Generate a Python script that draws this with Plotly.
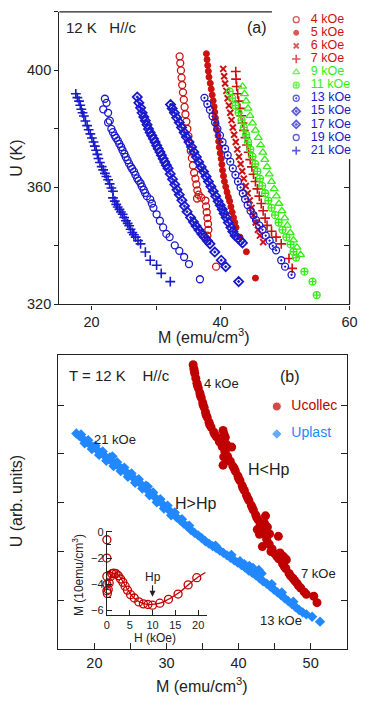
import plotly.graph_objects as go

W, H = 378, 708
FONT = "Liberation Sans, Arial, Helvetica, sans-serif"
INK = "#222222"
RED = "#cc1111"
GREEN = "#33ee11"
BLUE = "#1a1acc"
RED_B = "#c00000"
BLUE_B = "#2288ff"

# ---------------- Panel (a): U (K) versus M (emu/cm^3), pairs (M, U) ----------------
a4 = [(33.65,404.8),(33.75,402.5),(33.85,400),(33.95,397.5),(34.05,395),(34.17,392.5),(34.3,390),
      (34.42,387.5),(34.55,385),(34.7,382.5),(34.85,380),(35.02,377.5),(35.2,375),(35.37,372.5),
      (35.55,370),(35.72,367.5),(35.9,365),(36.1,363),(36.25,361),(36.4,359),(36.6,357.5),(36.35,356.2),
      (37.0,356.5),(37.65,355.5),(37.75,353.5),(37.85,351.5),(37.95,349.5),(38.05,347.5),(38.1,345.5),
      (37.95,343.5),(39.3,332.9)]
a5 = [(37.8,405.7),(37.9,403.7),(38.0,401.7),(38.1,399.7),(38.2,397.7),(38.4,395.6),(38.55,393.6),
      (38.7,391.6),(38.85,389.6),(39.0,387.6),(39.1,385.7),(39.2,383.7),(39.3,381.7),(39.4,379.7),
      (39.6,377.7),(39.7,375.7),(39.8,373.7),(39.95,371.7),(40.1,369.8),(40.2,367.8),(40.3,365.8),
      (40.45,363.9),(40.6,362.0),(40.8,360.2),(41.0,358.4),(41.2,356.7),(41.4,355.3),(41.6,353.4),
      (41.8,351.5),(42.0,349.7),(42.2,348.0),(42.4,346.3),(43.0,343.0),(44.0,338.0),(45.4,329.0)]
a6 = [(40.4,400.5),(40.55,398),(40.7,395.5),(40.9,393),(41.1,390.5),(41.3,388),(41.5,385.5),
      (41.7,383),(41.9,380.5),(42.1,378),(42.35,375.5),(42.6,373),(42.85,370.5),(43.1,368),
      (43.35,365.5),(43.6,363),(43.9,360.5),(44.2,358),(44.5,355.5),(44.8,353),(45.1,350.5),
      (45.45,348),(45.8,345.5),(46.1,343.5),(46.6,341.3)]
a7 = [(42.35,399.6),(42.4,397),(42.5,394.5),(42.65,392),(42.8,389.5),(43.0,387),(43.2,384.5),
      (43.4,382),(43.6,379.5),(43.85,377),(44.1,374.5),(44.35,372),(44.6,369.5),(44.85,367),
      (45.1,364.5),(45.4,362),(45.7,359.5),(46.0,357),(46.3,354.5),(46.6,352),(46.9,349.5),
      (47.2,347),(47.9,345.0),(48.6,343.0),(49.4,340.7),(50.6,335.7),(51.1,332.3)]
a9 = [(43.4,394.5),(43.7,392),(43.95,389.5),(44.25,387),(44.55,384.5),(44.95,382),(45.4,379.5),
      (45.85,377),(46.2,374.5),(46.55,372),(46.85,369.5),(47.2,367),(47.55,364.5),(47.9,362),
      (48.3,359.5),(48.65,357),(49.05,354.5),(49.5,352),(49.95,349.5),(50.35,347),(50.8,344.5),
      (51.3,342),(51.85,339.5),(52.4,337)]
a11 = [(41.4,392.8),(41.8,390.5),(42.3,388),(42.8,385.5),(43.25,383),(43.6,380.5),(43.95,378),
       (44.25,375.5),(44.6,373),(44.95,370.5),(45.35,368),(45.7,365.5),(46.1,363),(46.45,360.5),
       (46.9,358),(47.4,355.5),(47.9,353),(48.45,350.5),(49.0,348),(49.6,345.5),(50.2,343),
       (50.85,340.5),(51.3,338),(51.7,336),(53.0,331.2),(54.25,327.8),(54.9,323.2)]
a13 = [(37.5,390.6),(37.95,388.5),(38.35,386.5),(38.75,384.3),(39.15,382.2),(39.5,380),(39.9,377.8),
       (40.3,375.5),(40.7,373.2),(41.1,371),(41.5,368.8),(41.9,366.5),(42.3,364.3),(42.7,362),
       (43.1,360),(43.45,358),(43.8,356),(44.2,354),(44.65,352),(45.1,350.5),(45.5,348.8),(46.0,347),
       (46.5,345.5),(47.0,343.5),(47.6,341.8),(48.1,340),(48.6,338.5),(49.4,335.1),(50.0,332.9),(51.0,330.1)]
a15 = [(32.24,388.3),(32.5,387.0),(32.84,385.5),(33.2,383.8),(33.6,382.2),(33.95,380.5),(34.35,378.8),
       (34.7,377.2),(35.1,375.5),(35.5,373.8),(35.86,372.1),(36.25,370.4),(36.61,368.7),(37.0,367.0),
       (37.36,365.4),(37.75,363.7),(38.11,362.0),(38.5,360.3),(38.86,358.7),(39.25,357.0),(39.62,355.3),
       (39.95,353.9),(40.26,352.5),(40.55,351.1),(40.86,349.7),(41.2,348.0),(41.6,346.3),(41.9,344.9),
       (42.26,343.5),(42.7,342.6),(43.1,341.8),(43.4,341.0)]
a17 = [(27.08,390.9),(27.33,388.9),(27.6,387.2),(27.83,385.5),(28.1,384.1),(28.34,382.8),(28.6,381.4),
       (28.83,380),(29.08,378.8),(29.33,377.7),(29.6,376.6),(29.84,375.5),(30.1,374.3),(30.34,373.2),
       (30.6,372.1),(30.83,371),(31.1,369.8),(31.35,368.7),(31.6,367.6),(31.85,366.5),(32.2,364.6),
       (32.55,362.8),(32.9,361),(33.25,359.2),(33.6,357.5),(34.0,355.6),(34.4,353.6),(34.8,351.7),
       (35.35,349.7),(35.8,348.2),(36.2,346.8),(36.65,345.4),(37.1,344.1),(37.5,343),(37.95,341.8),
       (38.35,340.7),(39.1,337.9),(40.1,335.1),(40.8,332.9),(42.8,327.8)]
a19 = [(22.07,390.3),(22.32,388.9),(21.81,386.7),(22.56,385.5),(22.56,382.2),(22.82,382.8),(23.07,380.0),
       (23.3,378.9),(23.57,377.7),(23.8,376.9),(24.07,376.0),(24.3,374.9),(24.58,373.8),(24.8,372.7),
       (25.08,371.5),(25.3,370.4),(25.57,369.3),(25.8,368.2),(26.08,367.1),(26.3,366.3),(26.58,365.4),
       (26.8,364.3),(27.07,363.1),(27.3,362.3),(27.59,361.4),(27.8,360.3),(28.08,359.2),(28.3,358.1),
       (28.58,357.0),(29.09,355.9),(29.35,354.5),(29.59,353.0),(30.08,350.8),(30.59,348.6),(31.09,346.3),
       (31.59,344.1),(32.1,343.0),(32.9,340.2),(33.6,338.3),(34.35,336.2),(35.1,333.8),(36.8,328.6)]
a21 = [(17.56,392.0),(17.8,390.7),(18.06,389.5),(18.25,388.1),(18.41,386.7),(18.6,385.5),(18.81,384.4),
       (19.05,382.7),(19.31,381.1),(19.55,379.7),(19.81,378.3),(20.05,376.9),(20.31,375.5),(20.5,374.1),
       (20.71,372.7),(20.9,371.3),(21.06,369.9),(21.3,368.5),(21.57,367.1),(21.8,366.0),(22.07,364.8),
       (22.3,363.7),(22.56,362.6),(22.8,361.2),(23.07,359.8),(23.32,358.7),(23.32,356.4),(23.6,355.3),
       (23.83,354.2),(24.05,353.3),(24.32,352.5),(24.55,351.6),(24.82,350.8),(25.05,349.7),(25.33,348.6),
       (25.6,347.7),(25.83,346.9),(26.05,345.7),(26.32,344.6),(26.55,343.8),(26.83,343.0),(27.2,341.8),
       (27.59,340.7),(28.34,337.9),(29.09,335.1),(30.08,333.4),(30.8,330.6),(32.2,327.8)]

labels_a = ["4 kOe", "5 kOe", "6 kOe", "7 kOe", "9 kOe", "11 kOe",
            "13 kOe", "15 kOe", "17 kOe", "19 kOe", "21 kOe"]
data_a = [a4, a5, a6, a7, a9, a11, a13, a15, a17, a19, a21]
# style per field: (symbol, colour, size, line width)
style_a = [("circle-open", RED, 7, 1.3), ("circle", RED, 6, 1.0), ("x-thin", RED, 6, 2.0),
           ("cross-thin", RED, 7, 1.6), ("triangle-up-open", GREEN, 7, 1.3),
           ("circle-cross-open", GREEN, 7, 1.3), ("circle-open-dot", BLUE, 7, 1.3),
           ("diamond-open-dot", BLUE, 7, 1.8), ("diamond-open-dot", BLUE, 7, 1.8),
           ("circle-open", BLUE, 7, 1.3), ("cross-thin", BLUE, 7, 1.6)]

# ---------------- Panel (b): U (arb. units) versus M ----------------
ucollec = [(33.70,5.83),(33.80,5.75),(33.93,5.65),(34.07,5.55),(34.22,5.45),(34.42,5.35),(34.63,5.25),
           (34.83,5.15),(35.03,5.05),(35.23,4.95),(35.42,4.85),(35.65,4.75),(35.90,4.65),(36.18,4.55),
           (36.55,4.45),(36.93,4.35),(37.33,4.25),(37.72,4.15),(38.1,4.05),(38.48,3.95),(38.85,3.85),
           (39.2,3.75),(39.55,3.65),(39.9,3.55),(40.2,3.45),(40.5,3.35),(40.8,3.25),(41.1,3.15),
           (41.42,3.05),(41.75,2.95),(42.05,2.85),(42.38,2.75),(42.7,2.65),(43.0,2.55),(43.3,2.45),
           (43.6,2.35),(43.9,2.25),(44.25,2.15),(44.65,2.05),(45.04,1.95),(45.57,1.85),(46.10,1.75),
           (46.55,1.65),(47.00,1.55),(47.54,1.45),(48.09,1.35),(48.62,1.25),(49.10,1.17),(49.4,1.12),
           (50.43,1.08),(50.88,0.95),
           (37.85,4.48),(38.16,4.34),(37.72,4.21),(38.16,4.07),(37.94,3.94),(37.85,3.77),(38.6,3.87),
           (39.05,4.14),(38.0,4.40),(38.3,4.20),(43.74,2.73),(42.6,2.45),(43.6,2.58),(44.3,2.36),
           (44.0,2.50),(43.3,2.10),(45.75,1.97),(46.19,1.90),(46.63,1.83),(45.52,2.31),(46.42,1.86),
           (44.5,2.00),(42.9,2.35),
           (33.85,5.70),(34.3,5.40),(34.7,5.20),(35.1,5.00),(35.5,4.80),(36.0,4.60),(36.7,4.40),
           (39.4,3.70),(40.0,3.50),(40.6,3.30),(41.25,3.10),(41.9,2.90),(42.5,2.70),(45.3,1.90),
           (46.3,1.70),(47.2,1.50),(47.8,1.40),(48.3,1.30)]
uplast = [(17.5,4.42),(17.9,4.37),(18.4,4.31),(18.9,4.25),(19.4,4.19),(19.9,4.14),(20.4,4.08),
          (20.9,4.02),(21.4,3.96),(21.9,3.90),(22.4,3.85),(22.9,3.79),(23.4,3.74),(23.9,3.69),
          (24.4,3.63),(24.9,3.57),(25.4,3.51),(25.9,3.45),(26.4,3.39),(26.9,3.32),(27.4,3.25),
          (27.9,3.18),(28.4,3.11),(28.9,3.04),(29.4,2.98),(29.9,2.91),(30.4,2.84),(30.9,2.77),
          (31.4,2.70),(31.9,2.64),(32.4,2.57),(32.9,2.51),(33.4,2.44),(33.9,2.38),(34.4,2.33),
          (34.9,2.27),(35.4,2.21),(35.9,2.16),(36.4,2.11),(36.9,2.07),(37.4,2.02),(37.9,1.97),
          (38.4,1.92),(38.9,1.87),(39.4,1.82),(39.9,1.77),(40.4,1.72),(40.9,1.67),(41.4,1.61),
          (41.9,1.56),(42.4,1.51),(42.9,1.45),(43.4,1.39),(43.9,1.34),(44.4,1.28),(44.9,1.22),
          (45.4,1.16),(45.9,1.10),(46.4,1.04),(46.9,0.98),(47.4,0.92),(47.9,0.86),(48.4,0.80),
          (48.9,0.75),(49.4,0.71),(50.2,0.66),(51.3,0.56),
          (18.15,4.40),(19.15,4.28),(20.15,4.17),(21.15,4.05),(22.15,3.93),(23.15,3.83),(24.15,3.72),
          (25.15,3.60),(26.15,3.48),(27.15,3.35),(28.15,3.21),(29.15,3.07),(30.15,2.94),(31.15,2.80),
          (32.15,2.66),(33.15,2.53),
          (18.65,4.22),(19.65,4.10),(20.65,3.98),(21.65,3.86),(22.65,3.75),(23.65,3.65),(24.65,3.53),
          (25.65,3.41),(26.65,3.29),(27.65,3.15),(28.65,3.01),(29.65,2.88),(30.65,2.74),
          (22.5,3.95),(27.4,3.33),(36.8,2.12),(39.0,1.93),(40.2,1.80),(40.8,1.74),(41.5,1.70),
          (42.0,1.66),(42.8,1.62),(43.2,1.55),(44.6,1.33),(46.0,1.16),(47.6,0.97)]
labels_b = ["Ucollec", "Uplast"]

# ---------------- Inset: M (10 emu/cm^3) versus H (kOe) ----------------
inset_h = [0, 0, 0, 0, 0, 0.1, 0.3, 0.5, 0.8, 1.1, 1.5, 2.0, 2.5, 3.0, 3.5, 4.0, 4.5,
           5.2, 6.0, 7.0, 8.0, 9.0, 10.0, 11.6, 13.5, 15.6, 17.8, 19.7]
inset_m = [-0.6, -2.0, -3.4, -4.0, -4.5, -4.7, -4.4, -3.9, -3.4, -3.2, -3.15, -3.2, -3.35, -3.6,
           -3.85, -4.15, -4.45, -4.8, -5.05, -5.35, -5.5, -5.55, -5.6, -5.45, -5.15, -4.75, -4.05, -3.5]
fit_h = [0.3, 0.8, 1.5, 2.5, 3.5, 4.5, 5.5, 6.5, 7.5, 8.5, 9.5, 10.5, 12, 14, 16, 18, 20, 21.6]
fit_m = [-4.2, -3.4, -3.15, -3.3, -3.8, -4.4, -4.9, -5.2, -5.4, -5.52, -5.56, -5.52, -5.4, -5.05,
         -4.6, -4.0, -3.45, -3.1]

# ------------------------------------------------------------------
fig = go.Figure()

for pts, (sym, col, size, lw) in zip(data_a, style_a):
    fig.add_trace(go.Scatter(
        x=[p[0] for p in pts], y=[p[1] for p in pts], mode="markers",
        marker=dict(symbol=sym, color=col, size=size, line=dict(color=col, width=lw)),
        xaxis="x", yaxis="y", showlegend=False, hoverinfo="skip"))
# right-hand inside ticks of panel (a)
fig.add_trace(go.Scatter(x=[], y=[], xaxis="x", yaxis="y6", showlegend=False))

# legend of panel (a)
fig.add_trace(go.Scatter(
    x=[0] * len(labels_a), y=labels_a, mode="markers",
    marker=dict(symbol=[s[0] for s in style_a], color=[s[1] for s in style_a],
                size=[s[2] - 1 for s in style_a],
                line=dict(color=[s[1] for s in style_a], width=[s[3] for s in style_a])),
    xaxis="x3", yaxis="y3", showlegend=False, hoverinfo="skip", cliponaxis=False))
fig.add_trace(go.Scatter(
    x=[15] * len(labels_a), y=labels_a, mode="text", text=labels_a, textposition="middle right",
    textfont=dict(family=FONT, size=12.5, color=[s[1] for s in style_a]),
    xaxis="x3", yaxis="y3", showlegend=False, hoverinfo="skip", cliponaxis=False))

# panel (b)
fig.add_trace(go.Scatter(
    x=[p[0] for p in uplast], y=[p[1] for p in uplast], mode="markers",
    marker=dict(symbol="diamond", color=BLUE_B, size=8, line=dict(width=0)),
    xaxis="x2", yaxis="y2", showlegend=False, hoverinfo="skip"))
fig.add_trace(go.Scatter(
    x=[p[0] for p in ucollec], y=[p[1] for p in ucollec], mode="markers",
    marker=dict(symbol="circle", color=RED_B, size=9, line=dict(width=0)),
    xaxis="x2", yaxis="y2", showlegend=False, hoverinfo="skip"))
# legend of panel (b)
fig.add_trace(go.Scatter(
    x=[0, 0], y=labels_b, mode="markers",
    marker=dict(symbol=["circle", "diamond"], color=[RED_B, BLUE_B], size=[9, 8]),
    xaxis="x4", yaxis="y4", showlegend=False, hoverinfo="skip", cliponaxis=False))
fig.add_trace(go.Scatter(
    x=[15, 15], y=labels_b, mode="text", text=labels_b, textposition="middle right",
    textfont=dict(family=FONT, size=14, color=[RED_B, BLUE_B]),
    xaxis="x4", yaxis="y4", showlegend=False, hoverinfo="skip", cliponaxis=False))

# inset
fig.add_trace(go.Scatter(
    x=fit_h, y=fit_m, mode="lines", line=dict(color=RED_B, width=1.3, shape="spline"),
    xaxis="x5", yaxis="y5", showlegend=False, hoverinfo="skip", cliponaxis=False))
fig.add_trace(go.Scatter(
    x=inset_h, y=inset_m, mode="markers",
    marker=dict(symbol="circle-open", color=RED_B, size=8, line=dict(color=RED_B, width=1.3)),
    xaxis="x5", yaxis="y5", showlegend=False, hoverinfo="skip", cliponaxis=False))


def px_x(px):
    return px / W


def px_y(py):
    return 1 - py / H


tickfont = dict(family=FONT, size=14.5, color=INK)
hidden = dict(visible=False, showgrid=False, zeroline=False)
inset_font = dict(family=FONT, size=11, color=INK)

fig.update_layout(
    width=W, height=H, margin=dict(l=0, r=0, t=0, b=0),
    paper_bgcolor="white", plot_bgcolor="rgba(0,0,0,0)", showlegend=False,
    font=dict(family=FONT, color=INK),
    # panel (a)
    xaxis=dict(domain=[px_x(58), px_x(357)], anchor="y", range=[15, 60], tick0=20, dtick=20,
               ticks="outside", ticklen=4, tickwidth=1.2, tickcolor=INK,
               minor=dict(dtick=10, ticks="outside", ticklen=4, tickwidth=1.2, tickcolor=INK),
               showline=True, linecolor=INK, linewidth=1.3, showgrid=False, zeroline=False,
               tickfont=tickfont),
    yaxis=dict(domain=[px_y(305), px_y(7)], anchor="x", range=[320, 420], tick0=320, dtick=40,
               ticks="outside", ticklen=4, tickwidth=1.2, tickcolor=INK,
               minor=dict(dtick=20, ticks="outside", ticklen=4, tickwidth=1.2, tickcolor=INK),
               showline=True, linecolor=INK, linewidth=1.3, showgrid=False, zeroline=False,
               tickfont=tickfont),
    yaxis6=dict(overlaying="y", side="right", anchor="x", range=[320, 420],
                tickvals=[340, 360], ticks="inside", ticklen=6, tickwidth=1.2, tickcolor=INK,
                showticklabels=False, showline=False, showgrid=False, zeroline=False),
    xaxis3=dict(domain=[px_x(296), 1], anchor="y3", range=[-6, 76], **hidden),
    yaxis3=dict(domain=[px_y(155), px_y(8.3)], anchor="x3", type="category",
                categoryorder="array", categoryarray=labels_a,
                range=[len(labels_a) - 0.5, -0.5], **hidden),
    # panel (b)
    xaxis2=dict(domain=[px_x(57), px_x(354)], anchor="y2", range=[15, 55], tick0=20, dtick=10,
                ticks="inside", ticklen=6, tickwidth=1.2, tickcolor=INK,
                minor=dict(dtick=5, ticks="inside", ticklen=6, tickwidth=1.2, tickcolor=INK),
                showline=True, mirror=True, linecolor=INK, linewidth=1.3,
                showgrid=False, zeroline=False, tickfont=tickfont),
    yaxis2=dict(domain=[px_y(656), px_y(357)], anchor="x2", range=[0, 6.02], dtick=1,
                ticks="inside", ticklen=6, tickwidth=1.2, tickcolor=INK, showticklabels=False,
                showline=True, mirror="ticks", linecolor=INK, linewidth=1.3,
                showgrid=False, zeroline=False),
    xaxis4=dict(domain=[px_x(276), 1], anchor="y4", range=[-6, 96], **hidden),
    yaxis4=dict(domain=[px_y(451), px_y(395)], anchor="x4", type="category",
                categoryorder="array", categoryarray=labels_b, range=[1.5, -0.5], **hidden),
    # inset
    xaxis5=dict(domain=[px_x(107), px_x(210.4)], anchor="y5", range=[0, 22], dtick=5,
                ticks="inside", ticklen=5, tickwidth=1, tickcolor=INK,
                showline=True, linecolor=INK, linewidth=1.2, showgrid=False, zeroline=False,
                tickfont=inset_font),
    yaxis5=dict(domain=[px_y(621.4), px_y(535.4)], anchor="x5", range=[-6.35, 0.1], dtick=2,
                ticks="inside", ticklen=5, tickwidth=1, tickcolor=INK,
                minor=dict(dtick=1, ticks="inside", ticklen=4, tickwidth=1, tickcolor=INK),
                showline=True, linecolor=INK, linewidth=1.2, showgrid=False, zeroline=False,
                tickfont=inset_font),
)

# partial frame of panel (a) (top and right edges, interrupted by the legend)
fig.add_shape(type="line", xref="x domain", yref="y domain", x0=0, x1=(277 - 58) / 299,
              y0=1, y1=1, line=dict(color=INK, width=1.3))
fig.add_shape(type="line", xref="x domain", yref="y domain", x0=1, x1=1,
              y0=0, y1=(305 - 157) / 298, line=dict(color=INK, width=1.3))


def ann(text, px, py, size, color=INK, xanchor="left", angle=0):
    return dict(text=text, x=px_x(px), y=px_y(py), xref="paper", yref="paper",
                showarrow=False, xanchor=xanchor, yanchor="middle", textangle=angle,
                font=dict(family=FONT, size=size, color=color))


NB = "\u00a0"
annotations = [
    ann("12 K" + NB * 3 + "H//c", 63, 23, 15),
    ann("(a)", 262, 23, 16, xanchor="center"),
    ann("U (K)", 14, 156, 16, xanchor="center", angle=-90),
    ann("M (emu/cm<sup>3</sup>)", 207, 337, 16, xanchor="center"),
    ann("T = 12 K" + NB * 4 + "H//c", 66, 377, 15),
    ann("(b)", 296, 378, 16, xanchor="center"),
    ann("4 kOe", 205, 386, 13),
    ann("21 kOe", 92, 443, 13),
    ann("H&lt;Hp", 250, 473, 16),
    ann("H&gt;Hp", 175, 508, 16),
    ann("7 kOe", 305, 579, 13),
    ann("13 kOe", 263, 627, 13),
    ann("U (arb. units)", 14, 506, 16, xanchor="center", angle=-90),
    ann("M (emu/cm<sup>3</sup>)", 205, 693, 16, xanchor="center"),
    ann("M (10emu/cm<sup>3</sup>)", 78, 581, 12, xanchor="center", angle=-90),
    ann("H (kOe)", 157, 645, 12, xanchor="center"),
    dict(text="Hp", x=10, y=-4.95, xref="x5", yref="y5", showarrow=True, ax=0, ay=-20,
         arrowhead=2, arrowsize=1, arrowwidth=1.2, arrowcolor=INK,
         font=dict(family=FONT, size=12, color=INK)),
]
fig.update_layout(annotations=annotations)

fig.write_html("out.html", config={"displayModeBar": False},
               post_script="document.body.style.margin='0';document.body.style.padding='0';"
                           "document.documentElement.style.overflow='hidden';")
